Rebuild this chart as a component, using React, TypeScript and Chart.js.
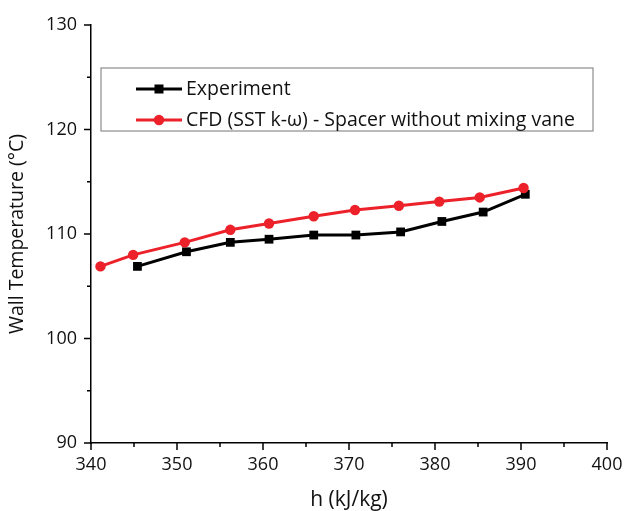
import React, { useEffect, useRef } from "react";
import { Chart, registerables } from "chart.js";

Chart.register(...registerables);

const experimentH = [345.4, 351.1, 356.2, 360.7, 365.9, 370.8, 376.0, 380.8, 385.6, 390.5];
const experimentT = [106.9, 108.3, 109.2, 109.5, 109.9, 109.9, 110.2, 111.2, 112.1, 113.8];
const cfdH = [341.1, 344.9, 350.9, 356.2, 360.7, 365.9, 370.7, 375.8, 380.5, 385.2, 390.3];
const cfdT = [106.9, 108.0, 109.2, 110.4, 111.0, 111.7, 112.3, 112.7, 113.1, 113.5, 114.4];

const seriesLabels = ["Experiment", "CFD (SST k-\u03c9) - Spacer without mixing vane"];
const xTitle = "h (kJ/kg)";
const yTitle = "Wall Temperature (\u00b0C)";
const xMin = 340, xMax = 400, xMajor = 10, xMinorStep = 5;
const yMin = 90, yMax = 130, yMajor = 10, yMinorStep = 5;

const FONT = "'Open Sans', sans-serif";
const RED = "#ec2129";
const BLACK = "#000000";

const tickPlugin = {
  id: "customTicks",
  afterDraw(chart: any) {
    const ctx = chart.ctx;
    const xs = chart.scales.x;
    const ys = chart.scales.y;
    const area = chart.chartArea;
    ctx.save();
    ctx.strokeStyle = "#000";
    ctx.lineWidth = 1.5;
    for (let v = xMin; v <= xMax + 1e-9; v += xMinorStep) {
      const px = xs.getPixelForValue(v);
      const len = Math.abs((v - xMin) % xMajor) < 1e-6 ? 7 : 4;
      ctx.beginPath();
      ctx.moveTo(px, area.bottom);
      ctx.lineTo(px, area.bottom + len);
      ctx.stroke();
    }
    for (let v = yMin; v <= yMax + 1e-9; v += yMinorStep) {
      const py = ys.getPixelForValue(v);
      const len = Math.abs((v - yMin) % yMajor) < 1e-6 ? 7 : 4;
      ctx.beginPath();
      ctx.moveTo(area.left, py);
      ctx.lineTo(area.left - len, py);
      ctx.stroke();
    }
    // legend
    const bx = 101, by = 68, bw = 492, bh = 63;
    ctx.strokeStyle = "#8c8c8c";
    ctx.lineWidth = 1.2;
    ctx.strokeRect(bx, by, bw, bh);
    const rows = [
      { y: 89, color: BLACK, shape: "rect", label: seriesLabels[0] },
      { y: 120, color: RED, shape: "circle", label: seriesLabels[1] },
    ];
    rows.forEach((r) => {
      ctx.strokeStyle = r.color;
      ctx.fillStyle = r.color;
      ctx.lineWidth = 3;
      ctx.beginPath();
      ctx.moveTo(136, r.y);
      ctx.lineTo(182, r.y);
      ctx.stroke();
      if (r.shape === "rect") {
        ctx.fillRect(159 - 4.5, r.y - 4.5, 9, 9);
      } else {
        ctx.beginPath();
        ctx.arc(159, r.y, 5.2, 0, Math.PI * 2);
        ctx.fill();
      }
      ctx.fillStyle = "#111";
      ctx.font = `19.5px ${FONT}`;
      ctx.textAlign = "left";
      ctx.textBaseline = "middle";
      ctx.fillText(r.label, 186, r.y);
    });
    ctx.restore();
  },
};

export default function App() {
  const ref = useRef<HTMLCanvasElement | null>(null);
  useEffect(() => {
    if (!ref.current) return;
    const chart = new Chart(ref.current, {
      type: "line",
      data: {
        datasets: [
          {
            label: seriesLabels[0],
            data: experimentH.map((h, i) => ({ x: h, y: experimentT[i] })),
            borderColor: BLACK,
            backgroundColor: BLACK,
            borderWidth: 3,
            pointStyle: "rect",
            pointRadius: 6.2,
            pointBorderWidth: 0,
            order: 1,
          },
          {
            label: seriesLabels[1],
            data: cfdH.map((h, i) => ({ x: h, y: cfdT[i] })),
            borderColor: RED,
            backgroundColor: RED,
            borderWidth: 3,
            pointStyle: "circle",
            pointRadius: 5.2,
            pointBorderWidth: 0,
            order: 0,
          },
        ],
      },
      options: {
        responsive: false,
        animation: false,
        layout: { padding: { left: 0, right: 17, top: 25, bottom: 0 } },
        plugins: { legend: { display: false }, tooltip: { enabled: false } },
        scales: {
          x: {
            type: "linear",
            min: xMin,
            max: xMax,
            afterFit: (s: any) => { s.height = 68; s.paddingRight = 0; s.paddingLeft = 0; },
            ticks: {
              stepSize: xMajor,
              color: "#111",
              font: { family: FONT, size: 18 },
              padding: 11,
            },
            grid: { display: false, drawTicks: false },
            border: { display: true, color: "#000", width: 1.5 },
            title: {
              display: true,
              text: xTitle,
              color: "#111",
              font: { family: FONT, size: 21, lineHeight: 1.0 },
              padding: { top: 0, bottom: 0 },
            },
          },
          y: {
            type: "linear",
            min: yMin,
            max: yMax,
            afterFit: (s: any) => { s.width = 91; s.paddingTop = 0; s.paddingBottom = 0; },
            ticks: {
              stepSize: yMajor,
              color: "#111",
              font: { family: FONT, size: 18 },
              padding: 14,
            },
            grid: { display: false, drawTicks: false },
            border: { display: true, color: "#000", width: 1.5 },
            title: {
              display: true,
              text: yTitle,
              color: "#111",
              font: { family: FONT, size: 19.5 },
              padding: { top: 6, bottom: 0 },
            },
          },
        },
      },
      plugins: [tickPlugin],
    } as any);
    return () => chart.destroy();
  }, []);
  return (
    <div style={{ position: "fixed", left: 0, top: 0, width: 624, height: 511, background: "#fff" }}>
      <canvas ref={ref} width={624} height={511} />
    </div>
  );
}
